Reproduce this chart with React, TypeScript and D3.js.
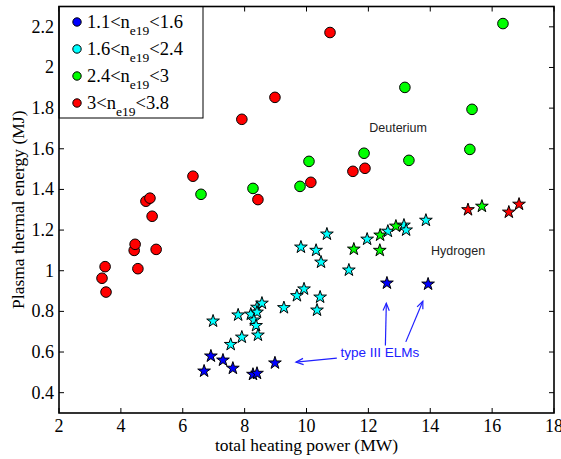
import React from 'react';
import * as d3 from 'd3';

// density bins (n_e19) — colours used for both circle (D) and star (H) markers
const bins = [
  { lo: '1.1', hi: '1.6', color: '#0000ff' },
  { lo: '1.6', hi: '2.4', color: '#00ffff' },
  { lo: '2.4', hi: '3', color: '#00ff00' },
  { lo: '3', hi: '3.8', color: '#ff0000' },
];

// Deuterium (circles): [power MW, energy MJ]
const deutRed = [
  [3.39, 0.963], [3.49, 1.02], [3.52, 0.895], [4.43, 1.1], [4.46, 1.13], [4.55, 1.01],
  [5.14, 1.105], [5.01, 1.268], [4.81, 1.342], [4.94, 1.357], [6.33, 1.465], [8.43, 1.35],
  [7.91, 1.745], [8.98, 1.853], [10.76, 2.172], [11.89, 1.504], [11.5, 1.489], [10.14, 1.435],
];
const deutGreen = [
  [6.59, 1.376], [8.27, 1.405], [16.35, 2.216], [13.18, 1.902], [15.35, 1.794],
  [15.28, 1.597], [11.86, 1.578], [13.31, 1.543], [10.08, 1.538], [9.79, 1.415],
];

// Hydrogen (stars)
const hydBlue = [
  [6.69, 0.506], [6.91, 0.58], [7.3, 0.56], [7.62, 0.52], [8.27, 0.49], [8.4, 0.495],
  [8.98, 0.546], [12.6, 0.939], [13.93, 0.934],
];
const hydCyan = [
  [6.98, 0.752], [7.79, 0.782], [7.91, 0.673], [7.55, 0.637], [8.2, 0.786], [8.4, 0.82],
  [8.56, 0.84], [8.4, 0.796], [8.3, 0.757], [8.37, 0.73], [8.43, 0.683], [9.27, 0.818],
  [9.69, 0.877], [9.92, 0.91], [10.44, 0.87], [10.34, 0.806], [9.82, 1.116], [10.31, 1.1],
  [10.47, 1.042], [10.66, 1.18], [11.37, 1.003], [11.96, 1.155], [12.63, 1.194],
  [13.15, 1.224], [13.22, 1.2], [13.86, 1.248],
];
const hydGreen = [[11.53, 1.106], [12.37, 1.1], [12.38, 1.175], [12.89, 1.219], [15.67, 1.317]];
const hydRed = [[15.22, 1.3], [16.54, 1.288], [16.87, 1.327]];

const xTicks = [2, 4, 6, 8, 10, 12, 14, 16, 18];
const yTicks = [0.4, 0.6, 0.8, 1, 1.2, 1.4, 1.6, 1.8, 2, 2.2];

// annotation arrows for type III ELMs: [from, to] in data coords
const elmArrows = [
  [[10.98, 0.57], [9.66, 0.55]],
  [[12.55, 0.632], [12.58, 0.84]],
  [[13.21, 0.65], [13.76, 0.85]],
];

const W = 561;
const H = 459;
const m = { left: 59, right: 554, top: 6.5, bottom: 413 };
const serif = '"Liberation Serif", "Times New Roman", serif';
const sans = '"Liberation Sans", Arial, sans-serif';

const App = () => {
  const x = d3.scaleLinear().domain([2, 18]).range([m.left, m.right]);
  const y = d3.scaleLinear().domain([0.3, 2.3]).range([m.bottom, m.top]);
  const star = d3.symbol().type(d3.symbolStar).size(50)();

  const circles = (pts, color) =>
    pts.map((d, i) => (
      <circle key={color + i} cx={x(d[0])} cy={y(d[1])} r={5.3} fill={color} stroke="#000" strokeWidth={1} />
    ));
  const stars = (pts, color) =>
    pts.map((d, i) => (
      <path key={color + 's' + i} d={star} transform={`translate(${x(d[0])},${y(d[1])})`}
        fill={color} stroke="#000" strokeWidth={1} strokeLinejoin="miter" />
    ));

  const arrow = (a, i) => {
    const x1 = x(a[0][0]), y1 = y(a[0][1]), x2 = x(a[1][0]), y2 = y(a[1][1]);
    const ang = Math.atan2(y2 - y1, x2 - x1);
    const L = 8, spread = 0.4;
    const h1 = [x2 - L * Math.cos(ang - spread), y2 - L * Math.sin(ang - spread)];
    const h2 = [x2 - L * Math.cos(ang + spread), y2 - L * Math.sin(ang + spread)];
    return (
      <g key={'arr' + i} stroke="#2020ff" strokeWidth={1.2} fill="none">
        <line x1={x1} y1={y1} x2={x2} y2={y2} />
        <polyline points={`${h1[0]},${h1[1]} ${x2},${y2} ${h2[0]},${h2[1]}`} />
      </g>
    );
  };

  return (
    <svg width={W} height={H} style={{ position: 'absolute', left: 0, top: 0, background: '#fff' }}>
      {/* ticks, inward on all sides */}
      <g stroke="#000" strokeWidth={1}>
        {xTicks.map(t => (
          <g key={'xt' + t}>
            <line x1={x(t)} x2={x(t)} y1={m.bottom} y2={m.bottom - 5} />
            <line x1={x(t)} x2={x(t)} y1={m.top} y2={m.top + 5} />
          </g>
        ))}
        {yTicks.map(t => (
          <g key={'yt' + t}>
            <line x1={m.left} x2={m.left + 5} y1={y(t)} y2={y(t)} />
            <line x1={m.right} x2={m.right - 5} y1={y(t)} y2={y(t)} />
          </g>
        ))}
      </g>
      <g fontFamily={serif} fill="#000">
        {xTicks.map(t => (
          <text key={'xl' + t} x={x(t)} y={m.bottom + 19} fontSize={18} textAnchor="middle">{t}</text>
        ))}
        {yTicks.map(t => (
          <text key={'yl' + t} x={m.left - 5} y={y(t) + 6} fontSize={18} textAnchor="end">{t}</text>
        ))}
        <text x={(m.left + m.right) / 2} y={451} fontSize={17.5} textAnchor="middle">total heating power (MW)</text>
        <text transform={`translate(24,${(m.top + m.bottom) / 2}) rotate(-90)`} fontSize={17.5} textAnchor="middle">
          Plasma thermal energy (MJ)
        </text>
      </g>

      {/* data */}
      {circles(deutRed, bins[3].color)}
      {circles(deutGreen, bins[2].color)}
      {stars(hydBlue, bins[0].color)}
      {stars(hydCyan, bins[1].color)}
      {stars(hydGreen, bins[2].color)}
      {stars(hydRed, bins[3].color)}

      {/* annotations */}
      <text x={x(12.96)} y={y(1.7) + 4} textAnchor="middle" fontFamily={sans} fontSize={12.5} fill="#222">Deuterium</text>
      <text x={x(14.9)} y={y(1.096) + 4} textAnchor="middle" fontFamily={sans} fontSize={12.5} fill="#222">Hydrogen</text>
      <text x={x(12.37)} y={y(0.6) + 5} textAnchor="middle" fontFamily={sans} fontSize={13.5} fill="#2020ff">type III ELMs</text>
      {elmArrows.map(arrow)}

      {/* legend */}
      <rect x={m.left} y={m.top} width={203 - m.left} height={118 - m.top} fill="#fff" stroke="#000" strokeWidth={1} />
      {bins.map((b, i) => {
        const ly = 22 + i * 27;
        return (
          <g key={'lg' + i}>
            <circle cx={77} cy={ly} r={4.2} fill={b.color} stroke="#000" strokeWidth={1} />
            <text x={87} y={ly + 6} fontFamily={serif} fontSize={18.5} fill="#000">
              {b.lo}&lt;n
              <tspan fontSize={13.5} dy={7}>e19</tspan>
              <tspan dy={-7}>&lt;{b.hi}</tspan>
            </text>
          </g>
        );
      })}

      {/* frame */}
      <rect x={m.left} y={m.top} width={m.right - m.left} height={m.bottom - m.top} fill="none" stroke="#000" strokeWidth={1.6} />
    </svg>
  );
};

export default App;
